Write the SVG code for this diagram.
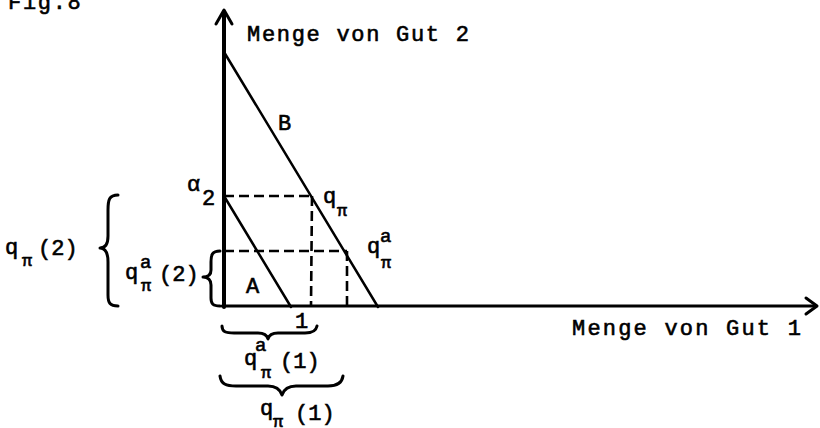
<svg xmlns="http://www.w3.org/2000/svg" width="820" height="428" viewBox="0 0 820 428">
<style>
  text { font-family: "Liberation Mono", "Courier New", monospace; fill: #000; stroke: #000; stroke-width: 0.6px; }
  .t { font-size: 22px; }
  .lbl { font-size: 22px; letter-spacing: 1.7px; }
  .sub { font-size: 17px; }
  .sup { font-size: 19px; }
  .axis { stroke: #000; fill: none; stroke-linecap: round; stroke-linejoin: round; }
  .line { stroke: #000; stroke-width: 2.5; fill: none; stroke-linecap: round; }
  .dash { stroke: #000; stroke-width: 2.6; fill: none; stroke-dasharray: 10 5; }
  .brace { stroke: #000; stroke-width: 3; fill: none; stroke-linecap: round; stroke-linejoin: round; }
</style>
<rect width="820" height="428" fill="#fff"/>

<g id="title"><text class="lbl" x="8" y="9">Fig.8</text></g>

<g id="axes">
  <line class="axis" x1="224" y1="307" x2="224" y2="12" stroke-width="4"/>
  <polyline class="axis" points="216,24 224,10 232,24" stroke-width="3"/>
  <line class="axis" x1="222" y1="306" x2="816" y2="306" stroke-width="3"/>
  <polyline class="axis" points="806,298 817,306 806,314" stroke-width="3"/>
  <text class="lbl" x="247" y="41">Menge von Gut 2</text>
  <text class="lbl" x="572" y="335" style="letter-spacing:2.2px">Menge von Gut 1</text>
</g>

<g id="connectors">
  <line class="line" x1="224" y1="52" x2="378" y2="307"/>
  <line class="line" x1="224" y1="196" x2="291" y2="307" stroke-width="3"/>
  <line class="dash" x1="224" y1="196" x2="312" y2="196"/>
  <line class="dash" x1="312" y1="196" x2="311" y2="306"/>
  <line class="dash" x1="224" y1="251" x2="347" y2="251"/>
  <line class="dash" x1="347" y1="251" x2="347" y2="306"/>
</g>

<g id="line-B"><text class="t" x="278" y="130">B</text></g>
<g id="line-A"><text class="t" x="246" y="293">A</text></g>
<g id="alpha2">
  <text class="t" x="187" y="191">α</text>
  <text class="t" x="202" y="205">2</text>
</g>
<g id="q-pi">
  <text class="t" x="323" y="203">q</text>
  <text class="sub" x="337" y="216">π</text>
</g>
<g id="q-pi-a">
  <text class="t" x="367" y="253">q</text>
  <text class="sup" x="380" y="242">a</text>
  <text class="sub" x="381" y="268">π</text>
</g>
<g id="tick-1"><text class="t" x="295" y="328">1</text></g>

<g id="brace-qa1">
  <path class="brace" d="M222,326 C222,332 226,333 234,333 L258,333 C264,333 267,335 268,339 C269,335 272,333 278,333 L305,333 C313,333 316,331 317,326"/>
  <text class="t" x="244" y="365">q</text>
  <text class="sup" x="255" y="351">a</text>
  <text class="sub" x="261" y="378">π</text>
  <text class="t" x="280" y="368">(1)</text>
</g>

<g id="brace-q1">
  <path class="brace" d="M220,376 C221,384 226,386 236,386 L268,386 C276,386 280,389 282,395 C284,389 288,386 296,386 L328,386 C337,386 342,383 343,376"/>
  <text class="t" x="260" y="415">q</text>
  <text class="sub" x="273" y="427">π</text>
  <text class="t" x="295" y="420">(1)</text>
</g>

<g id="brace-q2">
  <path class="brace" d="M118,195 C109,195 108,200 108,210 L108,236 C108,245 105,248 100,248 C105,248 108,252 108,262 L108,295 C108,303 110,306 118,306"/>
  <text class="t" x="5" y="254">q</text>
  <text class="sub" x="22" y="266">π</text>
  <text class="t" x="38" y="255">(2)</text>
</g>

<g id="brace-qa2">
  <path class="brace" d="M220,251 C212,251 211,255 211,262 L211,270 C211,275 208,277 203,277 C208,277 211,280 211,285 L211,298 C211,304 213,306 220,306"/>
  <text class="t" x="125" y="279">q</text>
  <text class="sup" x="140" y="268">a</text>
  <text class="sub" x="141" y="291">π</text>
  <text class="t" x="159" y="281">(2)</text>
</g>
</svg>
